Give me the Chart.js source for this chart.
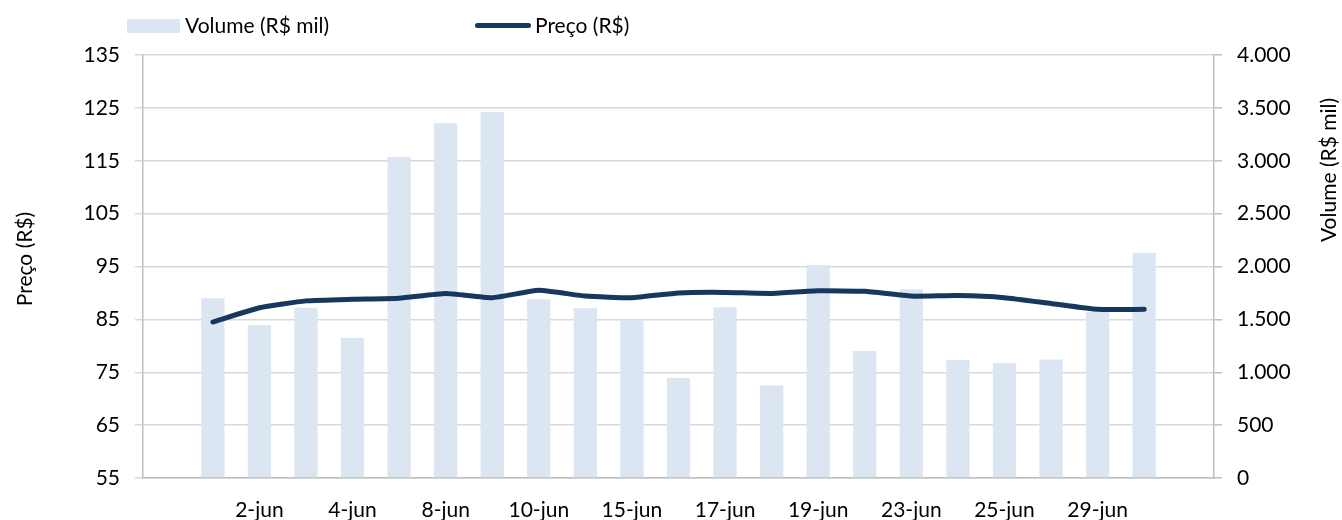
<!DOCTYPE html>
<html>
<head>
<meta charset="utf-8">
<script src="https://cdn.jsdelivr.net/npm/chart.js@4.4.1/dist/chart.umd.min.js"></script>
<style>
  html, body { margin: 0; padding: 0; background: #fff; }
  #wrap { position: relative; width: 1342px; height: 520px; font-family: Lato, "Noto Sans", sans-serif; }
  #chart { position: absolute; left: 0; top: 0; }
  .leg { position: absolute; top: 12px; font-size: 21px; color: #000; line-height: 26px; white-space: nowrap; }
  .leg .box { position: absolute; left: -58px; top: 7px; width: 53px; height: 14px; background: #dce6f2; }
  .leg .ln { position: absolute; left: -60px; top: 11px; width: 56px; height: 5px; border-radius: 3px; background: #17375e; }
</style>
</head>
<body>
<div id="wrap">
  <canvas id="chart" width="1342" height="520"></canvas>
  <div class="leg" style="left:185px"><span class="box"></span>Volume (R$ mil)</div>
  <div class="leg" style="left:535px"><span class="ln"></span>Preço (R$)</div>
</div>
<script>
// dias de pregão (primeira e última posição vazias, como no gráfico original)
const labels = ['', '1-jun', '2-jun', '3-jun', '4-jun', '7-jun', '8-jun', '9-jun', '10-jun', '14-jun', '15-jun',
  '16-jun', '17-jun', '18-jun', '19-jun', '22-jun', '23-jun', '24-jun', '25-jun', '28-jun', '29-jun', '30-jun', ''];
const volume = [null, 1700, 1445, 1610, 1325, 3035, 3355, 3460, 1690, 1605, 1500,
  945, 1615, 875, 2015, 1200, 1785, 1115, 1085, 1120, 1570, 2130, null];
const preco = [null, 84.5, 87.2, 88.5, 88.8, 89.0, 89.9, 89.1, 90.5, 89.4, 89.1,
  90.0, 90.1, 89.9, 90.4, 90.3, 89.4, 89.5, 89.1, 88.0, 86.9, 86.9, null];
const precoTicks = { min: 55, max: 135, step: 10 };
const volumeTicks = { min: 0, max: 4000, step: 500 };

const FONT = { family: 'Lato, "Noto Sans", sans-serif', size: 21 };
const fmtBR = (v) => String(v).replace(/\B(?=(\d{3})+(?!\d))/g, '.');

// títulos dos eixos, os dois lidos de baixo para cima
const axisTitles = {
    id: 'axisTitles',
    afterDraw(chart) {
        const ctx = chart.ctx;
        ctx.save();
        ctx.font = FONT.size + 'px ' + FONT.family;
        ctx.fillStyle = '#000';
        ctx.textAlign = 'center';
        ctx.textBaseline = 'middle';
        [['Preço (R$)', 25, 259], ['Volume (R$ mil)', 1329, 170]].forEach(([txt, x, y]) => {
            ctx.save();
            ctx.translate(x, y);
            ctx.rotate(-Math.PI / 2);
            ctx.fillText(txt, 0, 0);
            ctx.restore();
        });
        ctx.restore();
    }
};

new Chart(document.getElementById('chart').getContext('2d'), {
    type: 'bar',
    data: {
        labels,
        datasets: [
            { type: 'line', label: 'Preço (R$)', data: preco, yAxisID: 'y', order: 0,
              borderColor: '#17375e', backgroundColor: '#17375e', borderWidth: 5,
              borderCapStyle: 'round', borderJoinStyle: 'round', pointRadius: 0, tension: 0.15 },
            { type: 'bar', label: 'Volume (R$ mil)', data: volume, yAxisID: 'y1', order: 1,
              backgroundColor: '#dce6f2', barPercentage: 0.5, categoryPercentage: 1 }
        ]
    },
    options: {
        responsive: false,
        animation: false,
        layout: { padding: { left: 50, right: 50, top: 55, bottom: 0 } },
        plugins: { legend: { display: false }, tooltip: { enabled: false } },
        scales: {
            x: {
                grid: { display: false },
                border: { display: true, color: '#bfbfbf', width: 1.5 },
                ticks: {
                    autoSkip: false, maxRotation: 0, padding: 12, color: '#000', font: FONT,
                    callback: (v, i) => (i % 2 === 0 ? labels[i] : '')
                },
                afterFit: (s) => { s.height = 42; }
            },
            y: {
                position: 'left', min: precoTicks.min, max: precoTicks.max,
                grid: { color: '#d9d9d9', lineWidth: 1.5, tickLength: 8 },
                border: { display: true, color: '#bfbfbf', width: 1.5 },
                ticks: { stepSize: precoTicks.step, padding: 15, color: '#000', font: FONT },
                afterFit: (s) => { s.width = 93; }
            },
            y1: {
                position: 'right', min: volumeTicks.min, max: volumeTicks.max,
                grid: { drawOnChartArea: false, color: '#bfbfbf', lineWidth: 1.5, tickLength: 8 },
                border: { display: true, color: '#bfbfbf', width: 1.5 },
                ticks: { stepSize: volumeTicks.step, padding: 15, color: '#000', font: FONT, callback: (v) => fmtBR(v) },
                afterFit: (s) => { s.width = 78; }
            }
        }
    },
    plugins: [axisTitles]
});
</script>
</body>
</html>
